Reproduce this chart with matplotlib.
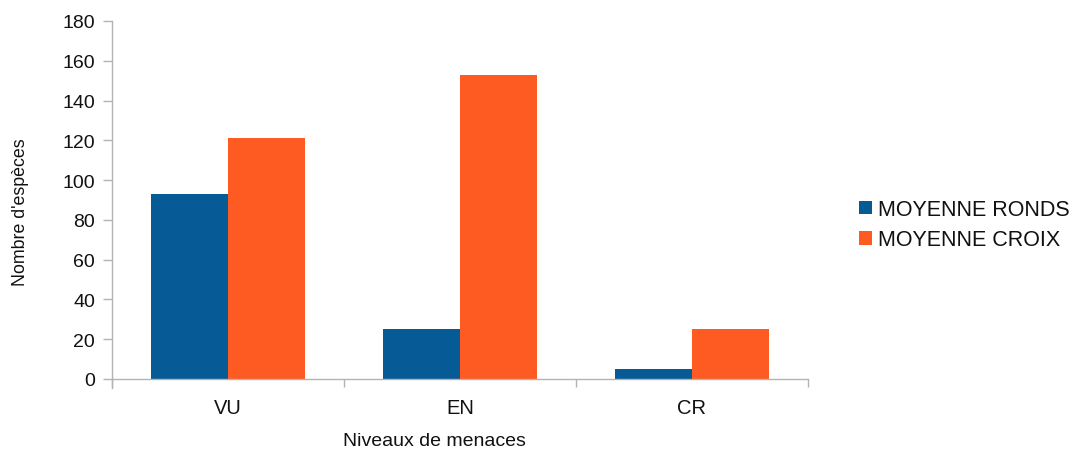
import matplotlib
matplotlib.use("Agg")
import matplotlib.pyplot as plt
import numpy as np

categories = ["VU", "EN", "CR"]
series_names = ["MOYENNE RONDS", "MOYENNE CROIX"]
ronds = [93, 25, 5]
croix = [121, 153, 25]
colors = ["#065a96", "#fe5b23"]
y_ticks = [0, 20, 40, 60, 80, 100, 120, 140, 160, 180]

plt.rcParams["font.family"] = ["Liberation Sans", "DejaVu Sans"]

fig = plt.figure(figsize=(10.82, 4.56), dpi=100)
ax = fig.add_axes([112/1082, 1-380/456, (808-112)/1082, (380-22)/456])

x = np.arange(len(categories))
w = 1/3
ax.bar(x - w/2, ronds, width=w, color=colors[0], label=series_names[0])
ax.bar(x + w/2, croix, width=w, color=colors[1], label=series_names[1])

ax.set_xlim(-0.5, len(categories) - 0.5)
ax.set_ylim(0, 180)
ax.set_yticks(y_ticks)
ax.set_xticks(x)
ax.set_xticklabels(categories)
ax.set_xticks(np.arange(len(categories) + 1) - 0.5, minor=True)
ax.tick_params(axis="x", which="major", length=0, pad=14, labelsize=14.5, labelcolor="#111111")
ax.tick_params(axis="x", which="minor", length=6, color="#b3b3b3", width=1)
ax.tick_params(axis="y", length=6.5, color="#b3b3b3", width=1, labelsize=14, pad=5.8,
               labelcolor="#111111")

for s in ["top", "right"]:
    ax.spines[s].set_visible(False)
for s in ["left", "bottom"]:
    ax.spines[s].set_color("#b3b3b3")
    ax.spines[s].set_linewidth(1)
ax.spines["left"].set_bounds(-4.3, 180)
ax.spines["left"].set_clip_on(False)

ax.set_xlabel("Niveaux de menaces", fontsize=14, color="#111111")
ax.xaxis.set_label_coords((434-112)/696, (380-433)/358)
ax.set_ylabel("Nombre d'espèces", fontsize=12.8, color="#111111")
ax.yaxis.set_label_coords((29-112)/696, (380-212)/358)

leg = fig.legend(loc="upper left", bbox_to_anchor=(859/1082, 1-200/456),
                 frameon=False, fontsize=15.5, handlelength=0.6, handleheight=0.6,
                 handletextpad=0.3, labelspacing=0.44, borderaxespad=0, borderpad=0)
for t in leg.get_texts():
    t.set_color("#111111")

fig.savefig("out.png", dpi=100)
